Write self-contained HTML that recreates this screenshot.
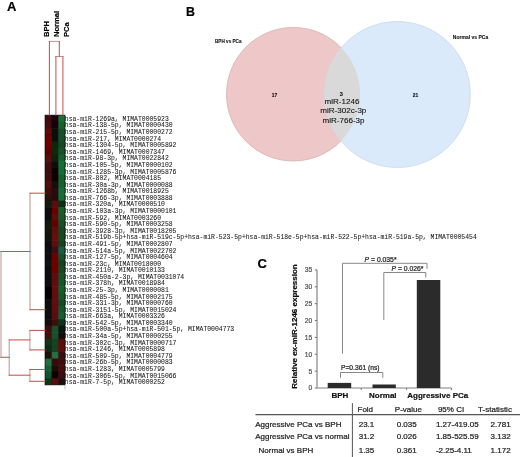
<!DOCTYPE html><html><head><meta charset="utf-8"><style>html,body{margin:0;padding:0;background:#fff;width:520px;height:457px;overflow:hidden}svg{display:block;will-change:transform}</style></head><body>
<svg width="520" height="457" viewBox="0 0 520 457">
<rect width="520" height="457" fill="#fff"/>
<text x="6.9" y="11.3" font-family="Liberation Sans, sans-serif" font-weight="bold" font-size="13.0" fill="#000" stroke="#000" stroke-width="0.2">A</text>
<text x="186.0" y="15.9" font-family="Liberation Sans, sans-serif" font-weight="bold" font-size="12.4" fill="#000" stroke="#000" stroke-width="0.2">B</text>
<text x="257.4" y="267.6" font-family="Liberation Sans, sans-serif" font-weight="bold" font-size="13.0" fill="#000" stroke="#000" stroke-width="0.2">C</text>
<defs><filter id="hb" x="-0.2" y="-0.02" width="1.4" height="1.04"><feGaussianBlur stdDeviation="0.45"/></filter></defs>
<g filter="url(#hb)">
<rect x="45.00" y="115.10" width="7.27" height="7.18" fill="#3a0810"/>
<rect x="51.67" y="115.10" width="7.27" height="7.18" fill="#1a0510"/>
<rect x="58.33" y="115.10" width="6.67" height="7.18" fill="#1c6d39"/>
<rect x="45.00" y="121.68" width="7.27" height="7.18" fill="#450808"/>
<rect x="51.67" y="121.68" width="7.27" height="7.18" fill="#150510"/>
<rect x="58.33" y="121.68" width="6.67" height="7.18" fill="#17642f"/>
<rect x="45.00" y="128.26" width="7.27" height="7.18" fill="#5a0808"/>
<rect x="51.67" y="128.26" width="7.27" height="7.18" fill="#100a10"/>
<rect x="58.33" y="128.26" width="6.67" height="7.18" fill="#17512b"/>
<rect x="45.00" y="134.84" width="7.27" height="7.18" fill="#6a0505"/>
<rect x="51.67" y="134.84" width="7.27" height="7.18" fill="#101010"/>
<rect x="58.33" y="134.84" width="6.67" height="7.18" fill="#17512b"/>
<rect x="45.00" y="141.42" width="7.27" height="7.18" fill="#700000"/>
<rect x="51.67" y="141.42" width="7.27" height="7.18" fill="#09250e"/>
<rect x="58.33" y="141.42" width="6.67" height="7.18" fill="#154824"/>
<rect x="45.00" y="148.00" width="7.27" height="7.18" fill="#600505"/>
<rect x="51.67" y="148.00" width="7.27" height="7.18" fill="#092b0e"/>
<rect x="58.33" y="148.00" width="6.67" height="7.18" fill="#17512b"/>
<rect x="45.00" y="154.58" width="7.27" height="7.18" fill="#550808"/>
<rect x="51.67" y="154.58" width="7.27" height="7.18" fill="#09210e"/>
<rect x="58.33" y="154.58" width="6.67" height="7.18" fill="#175f2f"/>
<rect x="45.00" y="161.16" width="7.27" height="7.18" fill="#400a10"/>
<rect x="51.67" y="161.16" width="7.27" height="7.18" fill="#101010"/>
<rect x="58.33" y="161.16" width="6.67" height="7.18" fill="#176d39"/>
<rect x="45.00" y="167.74" width="7.27" height="7.18" fill="#3a0a10"/>
<rect x="51.67" y="167.74" width="7.27" height="7.18" fill="#0a0505"/>
<rect x="58.33" y="167.74" width="6.67" height="7.18" fill="#176d39"/>
<rect x="45.00" y="174.32" width="7.27" height="7.18" fill="#400a0a"/>
<rect x="51.67" y="174.32" width="7.27" height="7.18" fill="#0a0505"/>
<rect x="58.33" y="174.32" width="6.67" height="7.18" fill="#175f2f"/>
<rect x="45.00" y="180.90" width="7.27" height="7.18" fill="#500808"/>
<rect x="51.67" y="180.90" width="7.27" height="7.18" fill="#150a0a"/>
<rect x="58.33" y="180.90" width="6.67" height="7.18" fill="#175f2f"/>
<rect x="45.00" y="187.49" width="7.27" height="7.18" fill="#400808"/>
<rect x="51.67" y="187.49" width="7.27" height="7.18" fill="#250a10"/>
<rect x="58.33" y="187.49" width="6.67" height="7.18" fill="#176d39"/>
<rect x="45.00" y="194.07" width="7.27" height="7.18" fill="#300808"/>
<rect x="51.67" y="194.07" width="7.27" height="7.18" fill="#200a10"/>
<rect x="58.33" y="194.07" width="6.67" height="7.18" fill="#176d39"/>
<rect x="45.00" y="200.65" width="7.27" height="7.18" fill="#0e1c0e"/>
<rect x="51.67" y="200.65" width="7.27" height="7.18" fill="#5a0808"/>
<rect x="58.33" y="200.65" width="6.67" height="7.18" fill="#0e2f15"/>
<rect x="45.00" y="207.23" width="7.27" height="7.18" fill="#100808"/>
<rect x="51.67" y="207.23" width="7.27" height="7.18" fill="#6a0505"/>
<rect x="58.33" y="207.23" width="6.67" height="7.18" fill="#175f2b"/>
<rect x="45.00" y="213.81" width="7.27" height="7.18" fill="#101010"/>
<rect x="51.67" y="213.81" width="7.27" height="7.18" fill="#600808"/>
<rect x="58.33" y="213.81" width="6.67" height="7.18" fill="#175a2b"/>
<rect x="45.00" y="220.39" width="7.27" height="7.18" fill="#0e1c0e"/>
<rect x="51.67" y="220.39" width="7.27" height="7.18" fill="#650505"/>
<rect x="58.33" y="220.39" width="6.67" height="7.18" fill="#175125"/>
<rect x="45.00" y="226.97" width="7.27" height="7.18" fill="#151510"/>
<rect x="51.67" y="226.97" width="7.27" height="7.18" fill="#600808"/>
<rect x="58.33" y="226.97" width="6.67" height="7.18" fill="#174821"/>
<rect x="45.00" y="233.55" width="7.27" height="7.18" fill="#0e120e"/>
<rect x="51.67" y="233.55" width="7.27" height="7.18" fill="#6a0808"/>
<rect x="58.33" y="233.55" width="6.67" height="7.18" fill="#174821"/>
<rect x="45.00" y="240.13" width="7.27" height="7.18" fill="#101010"/>
<rect x="51.67" y="240.13" width="7.27" height="7.18" fill="#600808"/>
<rect x="58.33" y="240.13" width="6.67" height="7.18" fill="#154221"/>
<rect x="45.00" y="246.71" width="7.27" height="7.18" fill="#101016"/>
<rect x="51.67" y="246.71" width="7.27" height="7.18" fill="#400a15"/>
<rect x="58.33" y="246.71" width="6.67" height="7.18" fill="#175f42"/>
<rect x="45.00" y="253.29" width="7.27" height="7.18" fill="#101010"/>
<rect x="51.67" y="253.29" width="7.27" height="7.18" fill="#6a0505"/>
<rect x="58.33" y="253.29" width="6.67" height="7.18" fill="#17512f"/>
<rect x="45.00" y="259.87" width="7.27" height="7.18" fill="#0e120e"/>
<rect x="51.67" y="259.87" width="7.27" height="7.18" fill="#700505"/>
<rect x="58.33" y="259.87" width="6.67" height="7.18" fill="#174221"/>
<rect x="45.00" y="266.45" width="7.27" height="7.18" fill="#101010"/>
<rect x="51.67" y="266.45" width="7.27" height="7.18" fill="#700505"/>
<rect x="58.33" y="266.45" width="6.67" height="7.18" fill="#174821"/>
<rect x="45.00" y="273.03" width="7.27" height="7.18" fill="#100a10"/>
<rect x="51.67" y="273.03" width="7.27" height="7.18" fill="#600a10"/>
<rect x="58.33" y="273.03" width="6.67" height="7.18" fill="#17512b"/>
<rect x="45.00" y="279.61" width="7.27" height="7.18" fill="#0a0a10"/>
<rect x="51.67" y="279.61" width="7.27" height="7.18" fill="#600a10"/>
<rect x="58.33" y="279.61" width="6.67" height="7.18" fill="#17562b"/>
<rect x="45.00" y="286.19" width="7.27" height="7.18" fill="#050505"/>
<rect x="51.67" y="286.19" width="7.27" height="7.18" fill="#650808"/>
<rect x="58.33" y="286.19" width="6.67" height="7.18" fill="#175f2b"/>
<rect x="45.00" y="292.77" width="7.27" height="7.18" fill="#050505"/>
<rect x="51.67" y="292.77" width="7.27" height="7.18" fill="#650808"/>
<rect x="58.33" y="292.77" width="6.67" height="7.18" fill="#17562b"/>
<rect x="45.00" y="299.35" width="7.27" height="7.18" fill="#0a0a0a"/>
<rect x="51.67" y="299.35" width="7.27" height="7.18" fill="#600808"/>
<rect x="58.33" y="299.35" width="6.67" height="7.18" fill="#174c2b"/>
<rect x="45.00" y="305.93" width="7.27" height="7.18" fill="#101010"/>
<rect x="51.67" y="305.93" width="7.27" height="7.18" fill="#600808"/>
<rect x="58.33" y="305.93" width="6.67" height="7.18" fill="#17562b"/>
<rect x="45.00" y="312.51" width="7.27" height="7.18" fill="#101010"/>
<rect x="51.67" y="312.51" width="7.27" height="7.18" fill="#5a0a10"/>
<rect x="58.33" y="312.51" width="6.67" height="7.18" fill="#175f34"/>
<rect x="45.00" y="319.10" width="7.27" height="7.18" fill="#150a0a"/>
<rect x="51.67" y="319.10" width="7.27" height="7.18" fill="#400a10"/>
<rect x="58.33" y="319.10" width="6.67" height="7.18" fill="#0e341c"/>
<rect x="45.00" y="325.68" width="7.27" height="7.18" fill="#400a0a"/>
<rect x="51.67" y="325.68" width="7.27" height="7.18" fill="#17512b"/>
<rect x="58.33" y="325.68" width="6.67" height="7.18" fill="#0e120e"/>
<rect x="45.00" y="332.26" width="7.27" height="7.18" fill="#450a0a"/>
<rect x="51.67" y="332.26" width="7.27" height="7.18" fill="#17512b"/>
<rect x="58.33" y="332.26" width="6.67" height="7.18" fill="#151010"/>
<rect x="45.00" y="338.84" width="7.27" height="7.18" fill="#0e3415"/>
<rect x="51.67" y="338.84" width="7.27" height="7.18" fill="#174224"/>
<rect x="58.33" y="338.84" width="6.67" height="7.18" fill="#5a0808"/>
<rect x="45.00" y="345.42" width="7.27" height="7.18" fill="#092b12"/>
<rect x="51.67" y="345.42" width="7.27" height="7.18" fill="#174224"/>
<rect x="58.33" y="345.42" width="6.67" height="7.18" fill="#600808"/>
<rect x="45.00" y="352.00" width="7.27" height="7.18" fill="#200a0a"/>
<rect x="51.67" y="352.00" width="7.27" height="7.18" fill="#256d42"/>
<rect x="58.33" y="352.00" width="6.67" height="7.18" fill="#3a0a10"/>
<rect x="45.00" y="358.58" width="7.27" height="7.18" fill="#256d3e"/>
<rect x="51.67" y="358.58" width="7.27" height="7.18" fill="#300a10"/>
<rect x="58.33" y="358.58" width="6.67" height="7.18" fill="#400a10"/>
<rect x="45.00" y="365.16" width="7.27" height="7.18" fill="#175f32"/>
<rect x="51.67" y="365.16" width="7.27" height="7.18" fill="#1a0808"/>
<rect x="58.33" y="365.16" width="6.67" height="7.18" fill="#4a0a10"/>
<rect x="45.00" y="371.74" width="7.27" height="7.18" fill="#17512b"/>
<rect x="51.67" y="371.74" width="7.27" height="7.18" fill="#080505"/>
<rect x="58.33" y="371.74" width="6.67" height="7.18" fill="#3a0a10"/>
<rect x="45.00" y="378.32" width="7.27" height="6.58" fill="#0e3415"/>
<rect x="51.67" y="378.32" width="7.27" height="6.58" fill="#5a0808"/>
<rect x="58.33" y="378.32" width="6.67" height="6.58" fill="#200a0a"/>
</g>
<rect x="45.0" y="115.1" width="20.0" height="269.79999999999995" fill="none" stroke="#000" stroke-width="0.6"/>
<g font-family="Liberation Mono, monospace" font-size="6.4" fill="#1a1a1a" stroke="#1a1a1a" stroke-width="0.06">
<text x="64.8" y="120.90" textLength="103.95" lengthAdjust="spacingAndGlyphs">hsa-miR-1269a, MIMAT0005923</text>
<text x="64.8" y="127.48" textLength="107.80" lengthAdjust="spacingAndGlyphs">hsa-miR-138-5p, MIMAT0000430</text>
<text x="64.8" y="134.06" textLength="107.80" lengthAdjust="spacingAndGlyphs">hsa-miR-215-5p, MIMAT0000272</text>
<text x="64.8" y="140.64" textLength="96.25" lengthAdjust="spacingAndGlyphs">hsa-miR-217, MIMAT0000274</text>
<text x="64.8" y="147.22" textLength="111.65" lengthAdjust="spacingAndGlyphs">hsa-miR-1304-5p, MIMAT0005892</text>
<text x="64.8" y="153.80" textLength="100.10" lengthAdjust="spacingAndGlyphs">hsa-miR-1469, MIMAT0007347</text>
<text x="64.8" y="160.38" textLength="103.95" lengthAdjust="spacingAndGlyphs">hsa-miR-98-3p, MIMAT0022842</text>
<text x="64.8" y="166.96" textLength="107.80" lengthAdjust="spacingAndGlyphs">hsa-miR-105-5p, MIMAT0000102</text>
<text x="64.8" y="173.54" textLength="111.65" lengthAdjust="spacingAndGlyphs">hsa-miR-1285-3p, MIMAT0005876</text>
<text x="64.8" y="180.12" textLength="96.25" lengthAdjust="spacingAndGlyphs">hsa-miR-802, MIMAT0004185</text>
<text x="64.8" y="186.70" textLength="107.80" lengthAdjust="spacingAndGlyphs">hsa-miR-30a-3p, MIMAT0000088</text>
<text x="64.8" y="193.29" textLength="103.95" lengthAdjust="spacingAndGlyphs">hsa-miR-1268b, MIMAT0018925</text>
<text x="64.8" y="199.87" textLength="107.80" lengthAdjust="spacingAndGlyphs">hsa-miR-766-3p, MIMAT0003888</text>
<text x="64.8" y="206.45" textLength="100.10" lengthAdjust="spacingAndGlyphs">hsa-miR-320a, MIMAT0000510</text>
<text x="64.8" y="213.03" textLength="111.65" lengthAdjust="spacingAndGlyphs">hsa-miR-103a-3p, MIMAT0000101</text>
<text x="64.8" y="219.61" textLength="96.25" lengthAdjust="spacingAndGlyphs">hsa-miR-592, MIMAT0003260</text>
<text x="64.8" y="226.19" textLength="107.80" lengthAdjust="spacingAndGlyphs">hsa-miR-590-5p, MIMAT0003258</text>
<text x="64.8" y="232.77" textLength="111.65" lengthAdjust="spacingAndGlyphs">hsa-miR-3928-3p, MIMAT0018205</text>
<text x="64.8" y="239.35" textLength="411.95" lengthAdjust="spacingAndGlyphs">hsa-miR-519b-5p+hsa-miR-519c-5p+hsa-miR-523-5p+hsa-miR-518e-5p+hsa-miR-522-5p+hsa-miR-519a-5p, MIMAT0005454</text>
<text x="64.8" y="245.93" textLength="107.80" lengthAdjust="spacingAndGlyphs">hsa-miR-491-5p, MIMAT0002807</text>
<text x="64.8" y="252.51" textLength="111.65" lengthAdjust="spacingAndGlyphs">hsa-miR-514a-5p, MIMAT0022702</text>
<text x="64.8" y="259.09" textLength="107.80" lengthAdjust="spacingAndGlyphs">hsa-miR-127-5p, MIMAT0004604</text>
<text x="64.8" y="265.67" textLength="96.25" lengthAdjust="spacingAndGlyphs">hsa-miR-23c, MIMAT0018000</text>
<text x="64.8" y="272.25" textLength="100.10" lengthAdjust="spacingAndGlyphs">hsa-miR-2110, MIMAT0010133</text>
<text x="64.8" y="278.83" textLength="119.35" lengthAdjust="spacingAndGlyphs">hsa-miR-450a-2-3p, MIMAT0031074</text>
<text x="64.8" y="285.41" textLength="100.10" lengthAdjust="spacingAndGlyphs">hsa-miR-378h, MIMAT0018984</text>
<text x="64.8" y="291.99" textLength="103.95" lengthAdjust="spacingAndGlyphs">hsa-miR-25-3p, MIMAT0000081</text>
<text x="64.8" y="298.57" textLength="107.80" lengthAdjust="spacingAndGlyphs">hsa-miR-485-5p, MIMAT0002175</text>
<text x="64.8" y="305.15" textLength="107.80" lengthAdjust="spacingAndGlyphs">hsa-miR-331-3p, MIMAT0000760</text>
<text x="64.8" y="311.73" textLength="111.65" lengthAdjust="spacingAndGlyphs">hsa-miR-3151-5p, MIMAT0015024</text>
<text x="64.8" y="318.31" textLength="100.10" lengthAdjust="spacingAndGlyphs">hsa-miR-663a, MIMAT0003326</text>
<text x="64.8" y="324.90" textLength="107.80" lengthAdjust="spacingAndGlyphs">hsa-miR-542-5p, MIMAT0003340</text>
<text x="64.8" y="331.48" textLength="169.40" lengthAdjust="spacingAndGlyphs">hsa-miR-500a-5p+hsa-miR-501-5p, MIMAT0004773</text>
<text x="64.8" y="338.06" textLength="107.80" lengthAdjust="spacingAndGlyphs">hsa-miR-34a-5p, MIMAT0000255</text>
<text x="64.8" y="344.64" textLength="111.65" lengthAdjust="spacingAndGlyphs">hsa-miR-302c-3p, MIMAT0000717</text>
<text x="64.8" y="351.22" textLength="100.10" lengthAdjust="spacingAndGlyphs">hsa-miR-1246, MIMAT0005898</text>
<text x="64.8" y="357.80" textLength="107.80" lengthAdjust="spacingAndGlyphs">hsa-miR-509-5p, MIMAT0004779</text>
<text x="64.8" y="364.38" textLength="107.80" lengthAdjust="spacingAndGlyphs">hsa-miR-26b-5p, MIMAT0000083</text>
<text x="64.8" y="370.96" textLength="100.10" lengthAdjust="spacingAndGlyphs">hsa-miR-1283, MIMAT0005799</text>
<text x="64.8" y="377.54" textLength="111.65" lengthAdjust="spacingAndGlyphs">hsa-miR-3065-5p, MIMAT0015066</text>
<text x="64.8" y="384.12" textLength="100.10" lengthAdjust="spacingAndGlyphs">hsa-miR-7-5p, MIMAT0000252</text>
</g>
<line x1="65.0" y1="384.9" x2="65.0" y2="389.4" stroke="#999" stroke-width="0.6"/>
<line x1="30.0" y1="192.67" x2="30.0" y2="310.22" stroke="#c09898" stroke-width="1.05"/>
<line x1="1.0" y1="250.97" x2="1.0" y2="357.82" stroke="#c09898" stroke-width="1.05"/>
<line x1="9.2" y1="339.38" x2="9.2" y2="375.72" stroke="#c09898" stroke-width="1.05"/>
<line x1="29.9" y1="329.88" x2="29.9" y2="350.42" stroke="#c09898" stroke-width="1.05"/>
<line x1="29.9" y1="368.98" x2="29.9" y2="381.82" stroke="#c09898" stroke-width="1.05"/>
<line x1="48.88" y1="41.4" x2="59.82" y2="41.4" stroke="#c09898" stroke-width="1.05"/>
<line x1="55.38" y1="56.5" x2="63.42" y2="56.5" stroke="#c09898" stroke-width="1.05"/>
<line x1="29.48" y1="193.2" x2="45.52" y2="193.2" stroke="#cc5050" stroke-width="1.05"/>
<line x1="29.48" y1="309.7" x2="45.52" y2="309.7" stroke="#cc5050" stroke-width="1.05"/>
<line x1="0.47" y1="251.5" x2="30.52" y2="251.5" stroke="#cc5050" stroke-width="1.05"/>
<line x1="0.47" y1="357.3" x2="9.72" y2="357.3" stroke="#cc5050" stroke-width="1.05"/>
<line x1="8.67" y1="339.9" x2="30.42" y2="339.9" stroke="#cc5050" stroke-width="1.05"/>
<line x1="8.67" y1="375.2" x2="30.42" y2="375.2" stroke="#cc5050" stroke-width="1.05"/>
<line x1="29.38" y1="330.4" x2="45.52" y2="330.4" stroke="#cc5050" stroke-width="1.05"/>
<line x1="29.38" y1="349.9" x2="45.52" y2="349.9" stroke="#cc5050" stroke-width="1.05"/>
<line x1="29.38" y1="369.5" x2="45.52" y2="369.5" stroke="#cc5050" stroke-width="1.05"/>
<line x1="29.38" y1="381.3" x2="45.52" y2="381.3" stroke="#cc5050" stroke-width="1.05"/>
<line x1="49.4" y1="40.88" x2="49.4" y2="115.53" stroke="#cc5050" stroke-width="1.05"/>
<line x1="59.3" y1="40.88" x2="59.3" y2="57.02" stroke="#cc5050" stroke-width="1.05"/>
<line x1="55.9" y1="55.98" x2="55.9" y2="115.53" stroke="#cc5050" stroke-width="1.05"/>
<line x1="62.9" y1="55.98" x2="62.9" y2="115.53" stroke="#cc5050" stroke-width="1.05"/>
<text transform="translate(49.3,37.1) rotate(-90)" font-family="Liberation Sans, sans-serif" font-weight="bold" font-size="7.6" fill="#000" stroke="#000" stroke-width="0.2">BPH</text>
<text transform="translate(59.2,37.1) rotate(-90)" font-family="Liberation Sans, sans-serif" font-weight="bold" font-size="7.6" fill="#000" stroke="#000" stroke-width="0.2">Normal</text>
<text transform="translate(68.8,37.1) rotate(-90)" font-family="Liberation Sans, sans-serif" font-weight="bold" font-size="7.6" fill="#000" stroke="#000" stroke-width="0.2">PCa</text>
<defs><clipPath id="cp"><circle cx="293.3" cy="94.2" r="66.8"/></clipPath></defs>
<circle cx="293.3" cy="94.2" r="66.8" fill="#eec7c8" stroke="#dcb0b0" stroke-width="0.8"/>
<circle cx="397.3" cy="94.5" r="73.0" fill="#dbeafa" stroke="#c8d8ea" stroke-width="0.8"/>
<circle cx="397.3" cy="94.5" r="73.0" fill="#d9d9d9" clip-path="url(#cp)"/>
<text x="215" y="42.8" font-family="Liberation Sans, sans-serif" font-weight="bold" font-size="5.0" text-anchor="start" fill="#111" stroke="#111" stroke-width="0.1" transform="translate(215,42.8) scale(0.93,1) translate(-215,-42.8)">BPH vs PCa</text>
<text x="452.8" y="38.7" font-family="Liberation Sans, sans-serif" font-weight="bold" font-size="5.3" text-anchor="start" fill="#111" stroke="#111" stroke-width="0.1" transform="translate(452.8,38.7) scale(0.95,1) translate(-452.8,-38.7)">Normal vs PCa</text>
<text x="274.4" y="96.5" font-family="Liberation Sans, sans-serif" font-weight="bold" font-size="4.9" text-anchor="middle" fill="#111" stroke="#111" stroke-width="0.1" transform="translate(274.4,96.5) scale(1,1) translate(-274.4,-96.5)">17</text>
<text x="341.4" y="96.3" font-family="Liberation Sans, sans-serif" font-weight="bold" font-size="5.6" text-anchor="middle" fill="#111" stroke="#111" stroke-width="0.1" transform="translate(341.4,96.3) scale(1,1) translate(-341.4,-96.3)">3</text>
<text x="415.6" y="96.5" font-family="Liberation Sans, sans-serif" font-weight="bold" font-size="4.9" text-anchor="middle" fill="#111" stroke="#111" stroke-width="0.1" transform="translate(415.6,96.5) scale(1,1) translate(-415.6,-96.5)">21</text>
<text x="342.0" y="104.4" font-family="Liberation Sans, sans-serif" font-weight="normal" font-size="8.05" text-anchor="middle" fill="#111" stroke="#111" stroke-width="0.1" transform="translate(342.0,104.4) scale(1,1) translate(-342.0,-104.4)">miR-1246</text>
<text x="343.3" y="113.4" font-family="Liberation Sans, sans-serif" font-weight="normal" font-size="8.05" text-anchor="middle" fill="#111" stroke="#111" stroke-width="0.1" transform="translate(343.3,113.4) scale(1,1) translate(-343.3,-113.4)">miR-302c-3p</text>
<text x="343.5" y="122.5" font-family="Liberation Sans, sans-serif" font-weight="normal" font-size="8.05" text-anchor="middle" fill="#111" stroke="#111" stroke-width="0.1" transform="translate(343.5,122.5) scale(1,1) translate(-343.5,-122.5)">miR-766-3p</text>
<g stroke="#808080" stroke-width="1.15" fill="none">
<line x1="317.0" y1="269.91" x2="317.0" y2="388.0"/>
<line x1="317.0" y1="388.0" x2="451.5" y2="388.0"/>
<line x1="314.8" y1="388.00" x2="317.0" y2="388.00"/>
<line x1="314.8" y1="371.13" x2="317.0" y2="371.13"/>
<line x1="314.8" y1="354.26" x2="317.0" y2="354.26"/>
<line x1="314.8" y1="337.39" x2="317.0" y2="337.39"/>
<line x1="314.8" y1="320.52" x2="317.0" y2="320.52"/>
<line x1="314.8" y1="303.65" x2="317.0" y2="303.65"/>
<line x1="314.8" y1="286.78" x2="317.0" y2="286.78"/>
<line x1="314.8" y1="269.91" x2="317.0" y2="269.91"/>
<line x1="361.2" y1="388.0" x2="361.2" y2="390.0"/>
<line x1="406.5" y1="388.0" x2="406.5" y2="390.0"/>
<line x1="451.5" y1="388.0" x2="451.5" y2="390.0"/>
</g>
<g font-family="Liberation Sans, sans-serif" font-size="6.7" fill="#555" stroke="#555" stroke-width="0.22" text-anchor="end">
<text x="312.2" y="390.40">0</text>
<text x="312.2" y="373.53">5</text>
<text x="312.2" y="356.66">10</text>
<text x="312.2" y="339.79">15</text>
<text x="312.2" y="322.92">20</text>
<text x="312.2" y="306.05">25</text>
<text x="312.2" y="289.18">30</text>
<text x="312.2" y="272.31">35</text>
</g>
<rect x="327.7" y="382.9" width="23.50" height="5.10" fill="#2b2b2b"/>
<rect x="372.5" y="384.5" width="23.30" height="3.50" fill="#2b2b2b"/>
<rect x="416.8" y="280.0" width="23.50" height="108.00" fill="#2b2b2b"/>
<g font-family="Liberation Sans, sans-serif" font-weight="bold" font-size="8.0" fill="#111" stroke="#111" stroke-width="0.2">
<text x="331.4" y="398.0">BPH</text>
<text x="369.0" y="398.0">Normal</text>
<text x="407.3" y="398.0">Aggressive PCa</text>
</g>
<text transform="translate(297.2,326.5) rotate(-90)" text-anchor="middle" font-family="Liberation Sans, sans-serif" font-weight="bold" font-size="8.0" fill="#111" stroke="#111" stroke-width="0.2">Relative ex-miR-1246 expression</text>
<path d="M342.5,353.6 V263.3 H427 V268.8 M383.8,320 V272.5 H425.8 V277.4 M340.5,377.8 V372.5 H382.8 V377.8" fill="none" stroke="#888" stroke-width="1.0"/>
<text x="364.6" y="261.5" font-family="Liberation Sans, sans-serif" font-size="6.8" fill="#222" stroke="#222" stroke-width="0.22"><tspan font-style="italic">P</tspan> = 0.035*</text>
<text x="391.5" y="270.8" font-family="Liberation Sans, sans-serif" font-size="6.8" fill="#222" stroke="#222" stroke-width="0.22"><tspan font-style="italic">P</tspan> = 0.026*</text>
<text x="341.0" y="369.5" font-family="Liberation Sans, sans-serif" font-size="6.7" fill="#222" stroke="#222" stroke-width="0.22">P=0.361 (ns)</text>
<line x1="352.4" y1="403.1" x2="352.4" y2="457" stroke="#555" stroke-width="1.0"/>
<line x1="255.5" y1="414.7" x2="520" y2="414.7" stroke="#555" stroke-width="1.3"/>
<g font-family="Liberation Sans, sans-serif" font-size="8.0" fill="#222" stroke="#222" stroke-width="0.22">
<text x="357.5" y="411.6" text-anchor="start">Fold</text>
<text x="394.8" y="411.6" text-anchor="start">P-value</text>
<text x="437.9" y="411.6" text-anchor="start">95% CI</text>
<text x="478.1" y="411.6" text-anchor="start">T-statistic</text>
<text x="255.2" y="426.5" text-anchor="start">Aggressive PCa vs BPH</text>
<text x="358.7" y="426.5" text-anchor="start">23.1</text>
<text x="396.7" y="426.5" text-anchor="start">0.035</text>
<text x="435.9" y="426.5" text-anchor="start">1.27-419.05</text>
<text x="510.6" y="426.5" text-anchor="end">2.781</text>
<text x="255.2" y="439.4" text-anchor="start">Aggressive PCa vs normal</text>
<text x="358.7" y="439.4" text-anchor="start">31.2</text>
<text x="396.7" y="439.4" text-anchor="start">0.026</text>
<text x="435.9" y="439.4" text-anchor="start">1.85-525.59</text>
<text x="510.6" y="439.4" text-anchor="end">3.132</text>
<text x="258.6" y="452.5" text-anchor="start">Normal vs BPH</text>
<text x="358.7" y="452.5" text-anchor="start">1.35</text>
<text x="396.7" y="452.5" text-anchor="start">0.361</text>
<text x="435.9" y="452.5" text-anchor="start">-2.25-4.11</text>
<text x="510.6" y="452.5" text-anchor="end">1.172</text>
</g>
</svg></body></html>
